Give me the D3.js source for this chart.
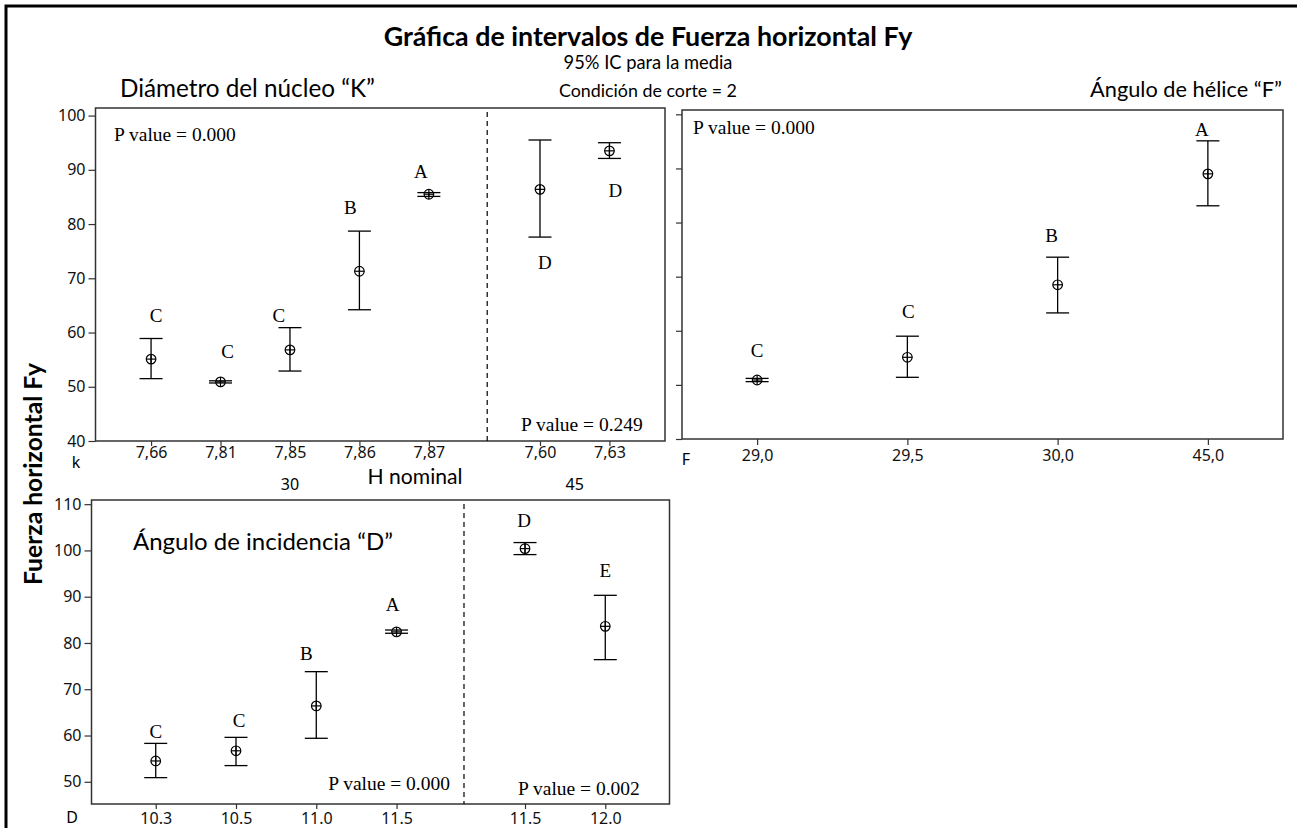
<!DOCTYPE html>
<html><head><meta charset="utf-8">
<script src="https://cdn.jsdelivr.net/npm/d3@7"></script>
<style>body{margin:0;background:#fff;} svg{display:block}</style>
</head><body><svg id="c" width="1297" height="828"></svg>
<script>
// ---------------- DATA ----------------
const kCats = ["7,66","7,81","7,85","7,86","7,87","7,60","7,63"];
const kGroup = [0,0,0,0,0,1,1];
const kGroupNames = ["30","45"];
const kMean = [55.1, 50.9, 56.8, 71.3, 85.5, 86.4, 93.5];
const kLow  = [51.5, 50.7, 52.9, 64.2, 85.1, 77.6, 92.1];
const kHigh = [58.9, 51.1, 60.9, 78.7, 85.8, 95.5, 95.0];
const kLetters = ["C","C","C","B","A","D","D"];
const kLetterVal = [63.1, 56.5, 63.2, 83.0, 89.7, 73.0, 86.3];
const kPValues = ["P value = 0.000", "P value = 0.249"];

const fCats = ["29,0","29,5","30,0","45,0"];
const fMean = [50.9, 55.1, 68.5, 89.0];
const fLow  = [50.6, 51.4, 63.3, 83.1];
const fHigh = [51.2, 59.0, 73.6, 95.1];
const fLetters = ["C","C","B","A"];
const fLetterVal = [56.4, 63.5, 77.7, 97.2];
const fPValues = ["P value = 0.000"];

const dCats = ["10.3","10.5","11.0","11.5","11.5","12.0"];
const dGroup = [0,0,0,0,1,1];
const dMean = [54.5, 56.7, 66.4, 82.4, 100.4, 83.6];
const dLow  = [50.9, 53.5, 59.4, 82.1, 99.1, 76.4];
const dHigh = [58.3, 59.6, 73.8, 82.8, 101.7, 90.3];
const dLetters = ["C","C","B","A","D","E"];
const dLetterVal = [61.0, 63.3, 77.7, 88.4, 106.6, 95.6];
const dPValues = ["P value = 0.000", "P value = 0.002"];

const kYTicks = [40,50,60,70,80,90,100];
const dYTicks = [50,60,70,80,90,100,110];

const titleText = "Gráfica de intervalos de Fuerza horizontal Fy";
const subtitle1 = "95% IC para la media";
const subtitle2 = "Condición de corte = 2";
const yTitle = "Fuerza horizontal Fy";

// ---------------- LAYOUT ----------------
const svg = d3.select("#c");
const SANS = "'Noto Sans', 'DejaVu Sans', sans-serif";
const CAL = "Lato, 'Open Sans', sans-serif";
const SERIF = "'Liberation Serif', 'Times New Roman', serif";
const INK = "#000";
const BOX = "#333";
const TICKFS = 16;

// outer frame
svg.append("rect").attr("x",6).attr("y",6).attr("width",1400).attr("height",1000)
  .attr("fill","none").attr("stroke","#000").attr("stroke-width",3);

function fitText(sel, target){
  const w = sel.node().getComputedTextLength();
  const fs = parseFloat(sel.attr("font-size"));
  sel.attr("font-size", fs*target/w);
  return sel;
}

// grouped position helper: index within group + gap between groups
function groupPositions(groups){
  const pos=[]; let idx=0;
  groups.forEach((g,i)=>{ if(i>0 && g!==groups[i-1]) idx+=0.6; pos.push(idx); idx+=1; });
  return pos;
}

function drawBars(g, xs, y, mean, low, high, letters, letterVal, letterDx){
  const capW = 11.5, r = 4.8;
  mean.forEach((m,i)=>{
    const x = xs[i];
    g.append("line").attr("x1",x).attr("x2",x).attr("y1",y(low[i])).attr("y2",y(high[i]))
      .attr("stroke",INK).attr("stroke-width",1.3);
    [low[i],high[i]].forEach(v=>{
      g.append("line").attr("x1",x-capW).attr("x2",x+capW).attr("y1",y(v)).attr("y2",y(v))
        .attr("stroke",INK).attr("stroke-width",1.3);
    });
    g.append("circle").attr("cx",x).attr("cy",y(m)).attr("r",r)
      .attr("fill","none").attr("stroke",INK).attr("stroke-width",1.2);
    g.append("line").attr("x1",x-r).attr("x2",x+r).attr("y1",y(m)).attr("y2",y(m))
      .attr("stroke",INK).attr("stroke-width",1.2);
    g.append("line").attr("x1",x).attr("x2",x).attr("y1",y(m)-r).attr("y2",y(m)+r)
      .attr("stroke",INK).attr("stroke-width",1.2);
    g.append("text").attr("x",x+(letterDx[i]||0)).attr("y",y(letterVal[i]))
      .attr("dy","0.35em").attr("text-anchor","middle")
      .attr("font-family",SERIF).attr("font-size",19).attr("fill",INK).text(letters[i]);
  });
}

function styleAxis(a){
  a.select(".domain").remove();
  a.selectAll(".tick line").attr("stroke",BOX).attr("stroke-width",1.2);
  a.selectAll(".tick text").attr("font-family",SANS).attr("font-size",TICKFS).attr("fill","#111");
}

// ---------- Panel K (top-left) ----------
{
  const L=95.5, R=665, T=108, B=441;
  const pos = groupPositions(kGroup);
  const x = d3.scaleLinear().domain([-0.8, pos[pos.length-1]+0.8]).range([L,R]);
  const y = d3.scaleLinear().domain([40, 101.4]).range([B,T]);
  const g = svg.append("g");
  g.append("rect").attr("x",L).attr("y",T).attr("width",R-L).attr("height",B-T)
    .attr("fill","none").attr("stroke",BOX).attr("stroke-width",1.5);
  const ya = g.append("g").attr("transform",`translate(${L},0)`)
    .call(d3.axisLeft(y).tickValues(kYTicks).tickSize(7).tickPadding(3).tickFormat(d3.format("d")));
  styleAxis(ya);
  const xa = g.append("g").attr("transform",`translate(0,${B})`)
    .call(d3.axisBottom(x).tickValues(pos).tickSize(5).tickPadding(1).tickFormat((d,i)=>kCats[i]));
  styleAxis(xa);
  g.append("text").attr("x",76).attr("y",468).attr("text-anchor","middle")
    .attr("font-family",SANS).attr("font-size",TICKFS).text("k");
  // group separator
  const sep = x(pos[4]+0.84);
  g.append("line").attr("x1",sep).attr("x2",sep).attr("y1",T+4).attr("y2",B)
    .attr("stroke",INK).attr("stroke-width",1.2).attr("stroke-dasharray","5,4");
  // group labels
  g.append("text").attr("x",x((pos[0]+pos[4])/2)).attr("y",490).attr("text-anchor","middle")
    .attr("font-family",SANS).attr("font-size",TICKFS).text(kGroupNames[0]);
  g.append("text").attr("x",x((pos[5]+pos[6])/2)).attr("y",490).attr("text-anchor","middle")
    .attr("font-family",SANS).attr("font-size",TICKFS).text(kGroupNames[1]);
  drawBars(g, pos.map(x), y, kMean, kLow, kHigh, kLetters, kLetterVal, [5,7,-11,-9,-8,5,6]);
  g.append("text").attr("x",114).attr("y",141).attr("font-family",SERIF).attr("font-size",19.5).text(kPValues[0]);
  g.append("text").attr("x",521).attr("y",431).attr("font-family",SERIF).attr("font-size",19.5).text(kPValues[1]);
}

// ---------- Panel F (top-right) ----------
{
  const L=682, R=1283, T=110, B=439;
  const x = d3.scalePoint().domain(fCats).range([L,R]).padding(0.5);
  const y = d3.scaleLinear().domain([40, 100.8]).range([B,T]);
  const g = svg.append("g");
  g.append("rect").attr("x",L).attr("y",T).attr("width",R-L).attr("height",B-T)
    .attr("fill","none").attr("stroke",BOX).attr("stroke-width",1.5);
  const ya = g.append("g").attr("transform",`translate(${L},0)`)
    .call(d3.axisLeft(y).tickValues(kYTicks).tickSize(6).tickFormat(""));
  styleAxis(ya);
  const xa = g.append("g").attr("transform",`translate(0,${B})`)
    .call(d3.axisBottom(x).tickSize(6).tickPadding(5));
  styleAxis(xa);
  g.append("text").attr("x",686).attr("y",465).attr("text-anchor","middle")
    .attr("font-family",SANS).attr("font-size",TICKFS).text("F");
  drawBars(g, fCats.map(c=>x(c)), y, fMean, fLow, fHigh, fLetters, fLetterVal, [0,1,-6,-6]);
  g.append("text").attr("x",693).attr("y",134).attr("font-family",SERIF).attr("font-size",19.5).text(fPValues[0]);
}

// ---------- Panel D (bottom) ----------
{
  const L=91.5, R=669.5, T=500, B=804;
  const pos = groupPositions(dGroup);
  const x = d3.scaleLinear().domain([-0.8, pos[pos.length-1]+0.8]).range([L,R]);
  const y = d3.scaleLinear().domain([45.2, 110.9]).range([B,T]);
  const g = svg.append("g");
  g.append("rect").attr("x",L).attr("y",T).attr("width",R-L).attr("height",B-T)
    .attr("fill","none").attr("stroke",BOX).attr("stroke-width",1.5);
  const ya = g.append("g").attr("transform",`translate(${L},0)`)
    .call(d3.axisLeft(y).tickValues(dYTicks).tickSize(7).tickPadding(3).tickFormat(d3.format("d")));
  styleAxis(ya);
  const xa = g.append("g").attr("transform",`translate(0,${B})`)
    .call(d3.axisBottom(x).tickValues(pos).tickSize(5).tickPadding(4).tickFormat((d,i)=>dCats[i]));
  styleAxis(xa);
  g.append("text").attr("x",72).attr("y",823).attr("text-anchor","middle")
    .attr("font-family",SANS).attr("font-size",TICKFS).text("D");
  const sep = x(pos[3]+0.84);
  g.append("line").attr("x1",sep).attr("x2",sep).attr("y1",T+4).attr("y2",B)
    .attr("stroke",INK).attr("stroke-width",1.2).attr("stroke-dasharray","5,4");
  drawBars(g, pos.map(x), y, dMean, dLow, dHigh, dLetters, dLetterVal, [0,3,-10,-4,-1,0]);
  g.append("text").attr("x",450).attr("y",790).attr("text-anchor","end").attr("font-family",SERIF).attr("font-size",19.5).text(dPValues[0]);
  g.append("text").attr("x",518).attr("y",795).attr("font-family",SERIF).attr("font-size",19.5).text(dPValues[1]);
}

// ---------- Titles / annotations ----------
const t1 = svg.append("text").attr("x",648).attr("y",46).attr("text-anchor","middle")
  .attr("font-family",CAL).attr("font-weight","bold").attr("font-size",24).text(titleText);
fitText(t1, 529);
const t2 = svg.append("text").attr("x",648).attr("y",69).attr("text-anchor","middle")
  .attr("font-family",CAL).attr("font-size",19).text(subtitle1);
fitText(t2, 169);
const t3 = svg.append("text").attr("x",648).attr("y",97).attr("text-anchor","middle")
  .attr("font-family",CAL).attr("font-size",19).text(subtitle2);
fitText(t3, 178);
const t4 = svg.append("text").attr("x",120).attr("y",97)
  .attr("font-family",CAL).attr("font-size",21).text("Diámetro del núcleo “K”");
fitText(t4, 255);
const t5 = svg.append("text").attr("x",1282).attr("y",97).attr("text-anchor","end")
  .attr("font-family",CAL).attr("font-size",21).text("Ángulo de hélice “F”");
fitText(t5, 192);
const t6 = svg.append("text").attr("x",133).attr("y",550)
  .attr("font-family",CAL).attr("font-size",23).text("Ángulo de incidencia “D”");
fitText(t6, 260);
const t7 = svg.append("text").attr("x",415).attr("y",484).attr("text-anchor","middle")
  .attr("font-family",CAL).attr("font-size",19).text("H nominal");
fitText(t7, 95);
const t8 = svg.append("text").attr("transform","translate(42,474) rotate(-90)").attr("text-anchor","middle")
  .attr("font-family",CAL).attr("font-weight","bold").attr("font-size",19).text(yTitle);
fitText(t8, 222);
</script></body></html>
